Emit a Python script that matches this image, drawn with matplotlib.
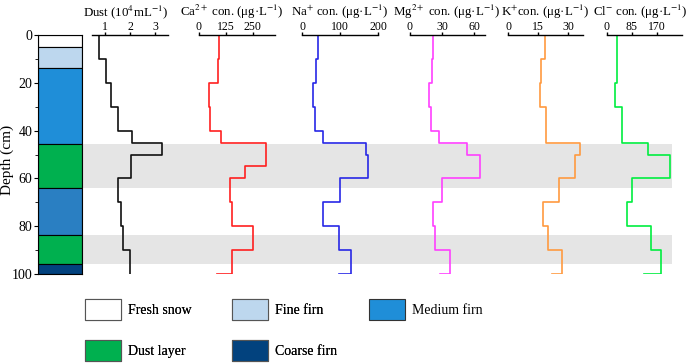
import numpy as np
import matplotlib
matplotlib.use("Agg")
import matplotlib.pyplot as plt
from matplotlib.patches import Patch

plt.rcParams['font.family'] = ['Liberation Serif', 'DejaVu Serif']
plt.rcParams['mathtext.fontset'] = 'stix'

# snow pit stratigraphy (depth in cm)
layer_top = [0, 5, 14, 45.5, 64, 83.5, 96]
layer_bottom = [5, 14, 45.5, 64, 83.5, 96, 100]
layer_type = ['Fresh snow', 'Fine firn', 'Medium firn', 'Dust layer',
              'Medium firn2', 'Dust layer', 'Coarse firn']

# sample depth edges
edges = [0, 10, 20, 30, 40, 45, 50, 60, 70, 80, 90, 100]
edges_ca = [0, 10, 20, 30, 40, 45, 55, 60, 70, 80, 90, 100]

dust = [0.79, 1.05, 1.25, 1.53, 2.07, 3.25, 2.03, 1.54, 1.63, 1.74, 2.0]
ca = [93, 89, 47, 50, 105, 312, 214, 144, 155, 253, 156]
na = [41, 37, 29, 35, 56, 168, 174, 100, 55, 98, 129]
mg = [21.8, 20.8, 18, 19.6, 27.4, 53, 65.4, 30.2, 21.8, 23.4, 37.4]
k = [18.7, 16.7, 15.8, 18.8, 19, 35.8, 33.3, 25.5, 17.5, 20, 27.2]
cl = [33.6, 34, 28, 50, 50, 140, 215, 84, 67, 151, 185]
# value of the short tail drawn at 100 cm
tails = {'dust': 2.0, 'ca': 84, 'na': 98, 'mg': 28, 'k': 22.2, 'cl': 125}

colors = {'Fresh snow': '#ffffff', 'Fine firn': '#bdd7ee', 'Medium firn': '#1f8ed8',
          'Medium firn2': '#2a7fc2', 'Dust layer': '#00b04f', 'Coarse firn': '#02427e'}

W, H = 692, 363


def rect(x0, x1, y0=35, y1=274):
    return [x0 / W, 1 - y1 / H, (x1 - x0) / W, (y1 - y0) / H]


fig = plt.figure(figsize=(W / 100, H / 100), dpi=100)

# grey bands behind the profiles
bg = fig.add_axes(rect(82, 672))
bg.set_ylim(100, 0)
bg.axis('off')
for t, b, name in zip(layer_top, layer_bottom, layer_type):
    if name == 'Dust layer':
        bg.axhspan(t, b, color='#e5e5e5', lw=0)

# stratigraphy column
ax0 = fig.add_axes(rect(38, 82))
for t, b, name in zip(layer_top, layer_bottom, layer_type):
    ax0.bar(0.5, b - t, bottom=t, width=1, color=colors[name],
            edgecolor='black', linewidth=0.8)
ax0.set_xlim(0, 1)
ax0.set_ylim(100, 0)
ax0.set_xticks([])
ax0.set_yticks(range(0, 101, 20))
ax0.set_yticks(range(10, 100, 20), minor=True)
ax0.tick_params(axis='y', labelsize=10, length=3, pad=1)
ax0.tick_params(axis='y', which='minor', length=2)
ax0.set_ylabel('Depth (cm)', fontsize=11)
ax0.yaxis.set_label_coords((14 - 38) / 44, 1 - (160 - 35) / 239)
for s in ax0.spines.values():
    s.set_linewidth(0.8)

# x0, x1 of each panel, title centre in pixels
panels = [
    (92, 168, 126, dust, edges, tails['dust'], (0.5, 3.5), [1, 2, 3], '#111111',
     'Dust (10$^{4}$mL$^{-1}$)'),
    (199, 275, 232, ca, edges_ca, tails['ca'], (0, 355), [0, 125, 250], '#ff2020',
     'Ca$^{2+}$ con. (μg·L$^{-1}$)'),
    (302, 378, 340, na, edges, tails['na'], (0, 200), [0, 100, 200], '#2828e6',
     'Na$^{+}$ con. (μg·L$^{-1}$)'),
    (410, 485, 447, mg, edges, tails['mg'], (0, 70), [0, 30, 60], '#ff40ff',
     'Mg$^{2+}$ con. (μg·L$^{-1}$)'),
    (508, 583, 545, k, edges, tails['k'], (0, 37.5), [0, 15, 30], '#ff9a40',
     'K$^{+}$con. (μg·L$^{-1}$)'),
    (607, 682, 640, cl, edges, tails['cl'], (0, 255), [0, 85, 170], '#00ee40',
     'Cl$^{-}$ con. (μg·L$^{-1}$)'),
]

for x0, x1, tx, vals, dep, tail, xlim, ticks, col, title in panels:
    ax = fig.add_axes(rect(x0, x1))
    ax.patch.set_alpha(0)
    ax.plot(list(vals) + [tail], dep, drawstyle='steps-pre', color=col, lw=1.2)
    ax.set_xlim(*xlim)
    ax.set_ylim(100, 0)
    ax.set_yticks([])
    for side in ['left', 'right', 'bottom']:
        ax.spines[side].set_visible(False)
    ax.spines['top'].set_linewidth(1.0)
    ax.xaxis.tick_top()
    ax.set_xticks(ticks)
    ax.tick_params(axis='x', labelsize=8.5, length=2, pad=-0.5, width=1.0)
    ax.text((tx - x0) / (x1 - x0), 1 + 23 / 239, title, transform=ax.transAxes,
            ha='center', va='center', fontsize=9.3)

leg_kw = dict(frameon=False, fontsize=10, handlelength=2.6, handleheight=1.95,
              handletextpad=0.5, columnspacing=2.9, labelspacing=1.45,
              borderpad=0, borderaxespad=0, loc='upper left')

names1 = ['Fresh snow', 'Dust layer', 'Fine firn', 'Coarse firn']
h1 = [Patch(facecolor=colors[n], edgecolor='#555555', linewidth=0.8) for n in names1]
leg1 = fig.legend(h1, names1, ncol=2, bbox_to_anchor=(85 / W, 1 - 299 / H), **leg_kw)

names2 = ['Medium firn']
h2 = [Patch(facecolor=colors[n], edgecolor='#333333', linewidth=0.8) for n in names2]
fig.legend(h2, names2, ncol=1, bbox_to_anchor=(369 / W, 1 - 299 / H), **leg_kw)
fig.add_artist(leg1)

fig.savefig('out.png', dpi=100)
